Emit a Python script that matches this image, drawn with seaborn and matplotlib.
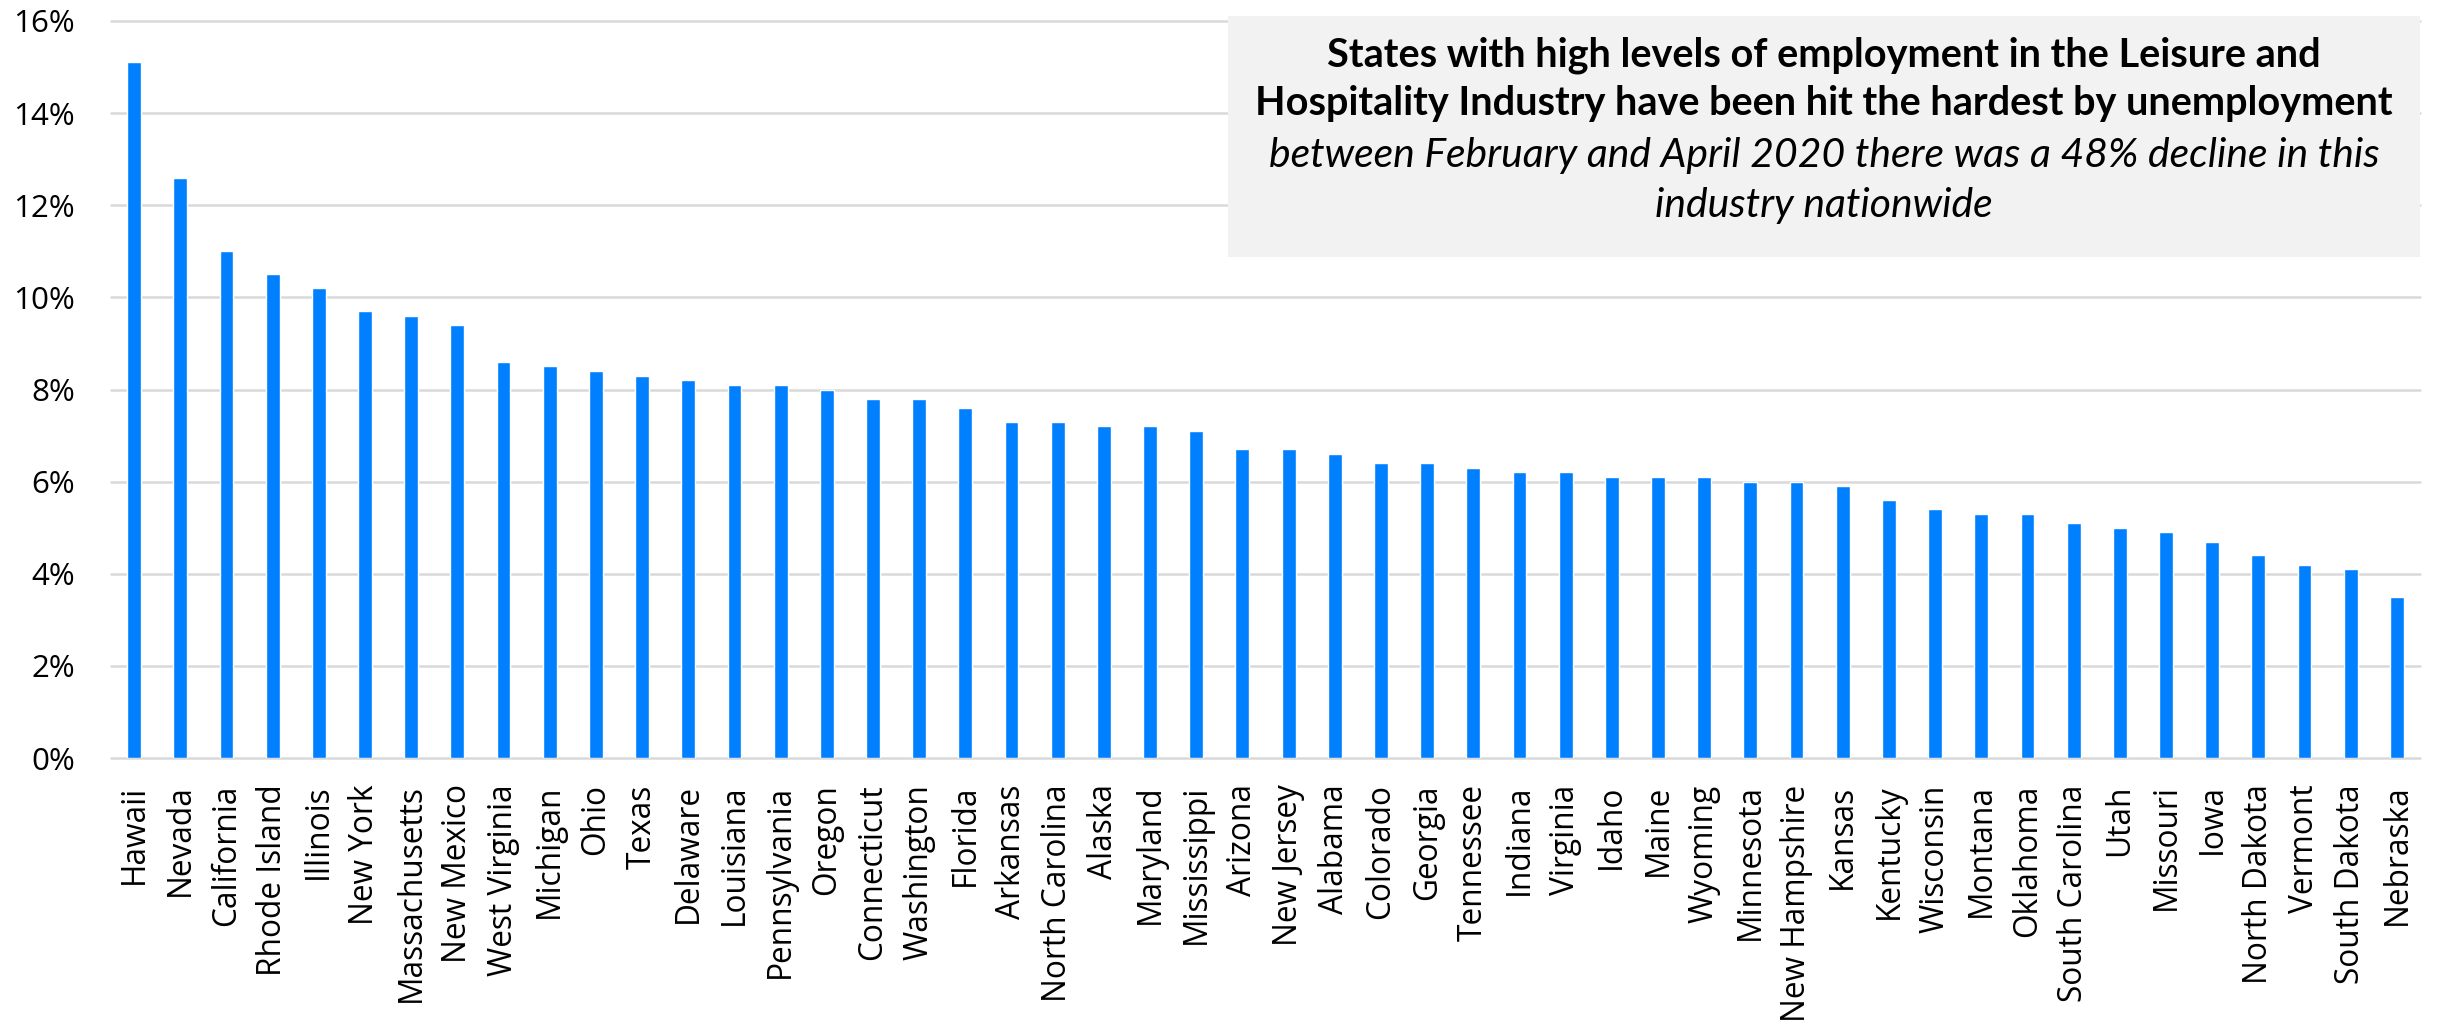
import matplotlib
matplotlib.use("Agg")
import matplotlib.pyplot as plt
from matplotlib.patches import Rectangle
from matplotlib.ticker import PercentFormatter, MultipleLocator
import seaborn as sns
import pandas as pd

states = ["Hawaii", "Nevada", "California", "Rhode Island", "Illinois", "New York",
          "Massachusetts", "New Mexico", "West Virginia", "Michigan", "Ohio", "Texas",
          "Delaware", "Louisiana", "Pennsylvania", "Oregon", "Connecticut", "Washington",
          "Florida", "Arkansas", "North Carolina", "Alaska", "Maryland", "Mississippi",
          "Arizona", "New Jersey", "Alabama", "Colorado", "Georgia", "Tennessee",
          "Indiana", "Virginia", "Idaho", "Maine", "Wyoming", "Minnesota",
          "New Hampshire", "Kansas", "Kentucky", "Wisconsin", "Montana", "Oklahoma",
          "South Carolina", "Utah", "Missouri", "Iowa", "North Dakota", "Vermont",
          "South Dakota", "Nebraska"]
share_pct = [15.1, 12.6, 11.0, 10.5, 10.2, 9.7,
             9.6, 9.4, 8.6, 8.5, 8.4, 8.3,
             8.2, 8.1, 8.1, 8.0, 7.8, 7.8,
             7.6, 7.3, 7.3, 7.2, 7.2, 7.1,
             6.7, 6.7, 6.6, 6.4, 6.4, 6.3,
             6.2, 6.2, 6.1, 6.1, 6.1, 6.0,
             6.0, 5.9, 5.6, 5.4, 5.3, 5.3,
             5.1, 5.0, 4.9, 4.7, 4.4, 4.2,
             4.1, 3.5]

title_bold = ["States with high levels of employment in the Leisure and",
              "Hospitality Industry have been hit the hardest by unemployment"]
title_italic = ["between February and April 2020 there was a 48% decline in this",
                "industry nationwide"]

sns.set_theme(style="white")
plt.rcParams["font.family"] = ["Open Sans", "DejaVu Sans"]

W, H = 2445, 1025
fig = plt.figure(figsize=(W / 100, H / 100), dpi=100)
ax = fig.add_axes([111 / W, 1 - 758 / H, (2420 - 111) / W, (758 - 21) / H])

df = pd.DataFrame({"state": states, "share": [v / 100 for v in share_pct]})
sns.barplot(data=df, x="state", y="share", color="#007FFF", saturation=1,
            width=0.3, errorbar=None, ax=ax, zorder=3)

ax.set_ylim(0, 0.16)
ax.set_xlim(-0.5, len(states) - 0.5)
ax.yaxis.set_major_locator(MultipleLocator(0.02))
ax.yaxis.set_major_formatter(PercentFormatter(1, decimals=0))
ax.grid(axis="y", color="#D9D9D9", linewidth=1.8, zorder=0)
ax.grid(axis="x", visible=False)
for gl in ax.get_ygridlines():
    gl.set_clip_on(False)
for s in ax.spines.values():
    s.set_visible(False)
ax.set_xlabel("")
ax.set_ylabel("")
ax.tick_params(axis="y", length=0, pad=26, labelsize=22, labelcolor="black")
ax.tick_params(axis="x", length=0, pad=19, labelsize=22, labelcolor="black")
plt.setp(ax.get_xticklabels(), rotation=90, ha="center", va="top")

# annotation box
bx0, bx1, by0, by1 = 1228, 2420, 16, 257
fig.patches.append(Rectangle((bx0 / W, 1 - by1 / H), (bx1 - bx0) / W, (by1 - by0) / H,
                             transform=fig.transFigure, facecolor="#F2F2F2",
                             edgecolor="none", zorder=5))
cx = (bx0 + bx1) / 2 / W
line_y = [55, 104, 155, 205]
texts = []
for i, t in enumerate(title_bold):
    texts.append(fig.text(cx, 1 - line_y[i] / H, t, ha="center", va="center",
                          fontsize=24, fontweight="bold", color="black",
                          family=["Lato", "DejaVu Sans"], zorder=6))
for i, t in enumerate(title_italic):
    texts.append(fig.text(cx, 1 - line_y[i + 2] / H, t, ha="center", va="center",
                          fontsize=24, fontstyle="italic", color="black",
                          family=["Lato", "DejaVu Sans"], zorder=6))

renderer = fig.canvas.get_renderer()
b = texts[1].get_window_extent(renderer).width
fs_b = 24 * 1140 / b
texts[0].set_fontsize(fs_b)
texts[1].set_fontsize(fs_b)
i_w = texts[2].get_window_extent(renderer).width
fs_i = 24 * 1111 / i_w
texts[2].set_fontsize(fs_i)
texts[3].set_fontsize(fs_i)

# size tick labels to the reference's text extents
fig.canvas.draw()
xl = ax.get_xticklabels()
nc = [t for t in xl if t.get_text() == "North Carolina"][0]
h_nc = nc.get_window_extent(renderer).height
fs_x = 22 * 217 / h_nc
ax.tick_params(axis="x", labelsize=fs_x)
yl = [t for t in ax.get_yticklabels() if t.get_text().startswith("16")]
if yl:
    w16 = yl[0].get_window_extent(renderer).width
    ax.tick_params(axis="y", labelsize=22 * 62 / w16)

fig.savefig("out.png", dpi=100)
